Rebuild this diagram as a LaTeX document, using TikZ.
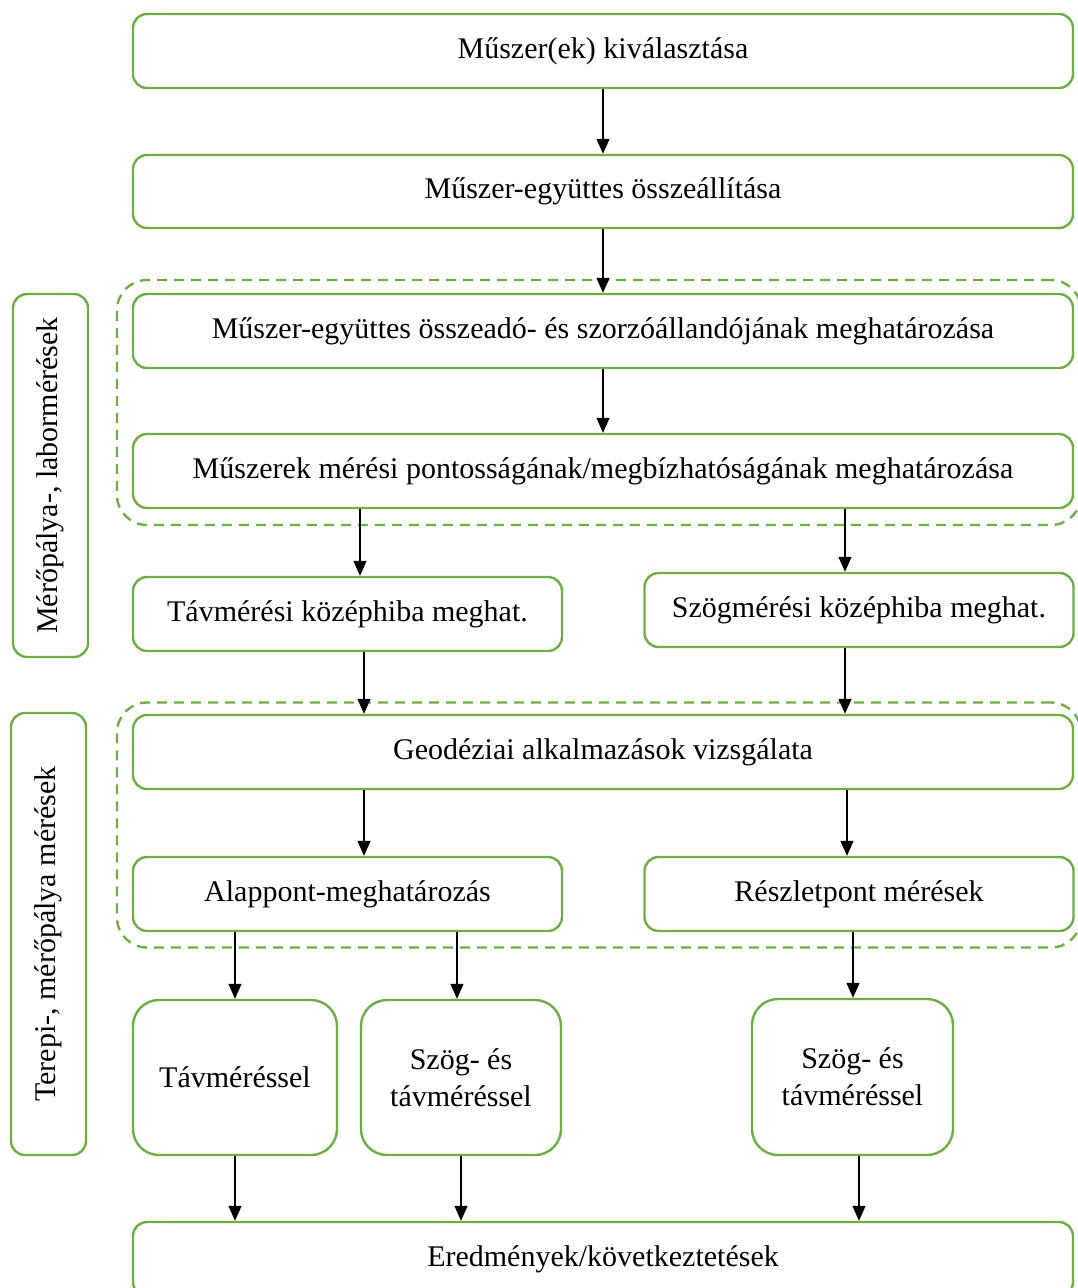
\documentclass[tikz,border=0pt]{standalone}
\usepackage{fontspec}
\setmainfont{Liberation Serif}
\usetikzlibrary{arrows.meta}
\definecolor{grn}{HTML}{70AD47}
\begin{document}
\begin{tikzpicture}[x=1pt,y=-1pt,
  box/.style={draw=grn, line width=2.4pt, rounded corners=14pt, fill=white, inner sep=0pt, align=center,
    font=\fontsize{30}{37}\selectfont},
  tall/.style={box, rounded corners=26pt},
  side/.style={draw=grn, line width=2.4pt, rounded corners=14pt, inner sep=0pt},
  grp/.style={draw=grn, line width=2.4pt, dash pattern=on 10pt off 7pt, rounded corners=30pt, inner sep=0pt},
  arr/.style={draw=black, line width=1.3pt, -{Triangle[width=13pt,length=15pt]}}]
\clip (0,0) rectangle (1078,1288);
% dashed groups
\node[grp, minimum width=964pt, minimum height=245pt] (g1) at (599,402.5) {};
\node[grp, minimum width=964pt, minimum height=245pt] (g2) at (599,825) {};
% side labels
\node[side, minimum width=75pt, minimum height=363pt] (L1) at (50.5,475.5) {};
\node[rotate=90, font=\fontsize{30}{36}\selectfont] (t1) at (L1.center) {Mérőpálya-, labormérések};
\node[side, minimum width=75pt, minimum height=442pt] (L2) at (48.5,934) {};
\node[rotate=90, font=\fontsize{30}{36}\selectfont] (t2) at (L2.center) {Terepi-, mérőpálya mérések};
% boxes
\node[box, minimum width=940pt, minimum height=74pt] (b1) at (603,51) {Műszer(ek) kiválasztása};
\node[box, minimum width=940pt, minimum height=73pt] (b2) at (603,191.5) {Műszer-együttes összeállítása};
\node[box, minimum width=940pt, minimum height=74pt] (b3) at (603,331) {Műszer-együttes összeadó- és szorzóállandójának meghatározása};
\node[box, minimum width=940pt, minimum height=74pt] (b4) at (603,471) {Műszerek mérési pontosságának/megbízhatóságának meghatározása};
\node[box, minimum width=429pt, minimum height=74pt] (b5) at (347.5,614) {Távmérési középhiba meghat.};
\node[box, minimum width=429pt, minimum height=74pt] (b6) at (859,610) {Szögmérési középhiba meghat.};
\node[box, minimum width=940pt, minimum height=74pt] (b7) at (603,752) {Geodéziai alkalmazások vizsgálata};
\node[box, minimum width=429pt, minimum height=74pt] (b8) at (347.5,894) {Alappont-meghatározás};
\node[box, minimum width=429pt, minimum height=74pt] (b9) at (859,894) {Részletpont mérések};
\node[tall, minimum width=204pt, minimum height=155pt] (b10) at (235,1077.5) {Távméréssel};
\node[tall, minimum width=200pt, minimum height=155pt] (b11) at (461,1077.5) {Szög- és\\távméréssel};
\node[tall, minimum width=201pt, minimum height=156pt] (b12) at (852.5,1077) {Szög- és\\távméréssel};
\node[box, minimum width=940pt, minimum height=74pt] (b13) at (603,1259) {Eredmények/következtetések};
% arrows
\draw[arr] (b1.south) -- (b2.north);
\draw[arr] (b2.south) -- (b3.north);
\draw[arr] (b3.south) -- (b4.north);
\draw[arr] ([xshift=-243pt]b4.south) -- ([xshift=12.5pt]b5.north);
\draw[arr] ([xshift=242pt]b4.south) -- ([xshift=-14pt]b6.north);
\draw[arr] ([xshift=16.5pt]b5.south) -- ([xshift=-239pt]b7.north);
\draw[arr] ([xshift=-14pt]b6.south) -- ([xshift=242pt]b7.north);
\draw[arr] ([xshift=-239pt]b7.south) -- ([xshift=16.5pt]b8.north);
\draw[arr] ([xshift=244pt]b7.south) -- ([xshift=-12pt]b9.north);
\draw[arr] ([xshift=-112.5pt]b8.south) -- (b10.north);
\draw[arr] ([xshift=109.5pt]b8.south) -- ([xshift=-4pt]b11.north);
\draw[arr] ([xshift=-6pt]b9.south) -- ([xshift=0.5pt]b12.north);
\draw[arr] (b10.south) -- ([xshift=-368pt]b13.north);
\draw[arr] (b11.south) -- ([xshift=-142pt]b13.north);
\draw[arr] ([xshift=6.5pt]b12.south) -- ([xshift=256pt]b13.north);
\end{tikzpicture}
\end{document}
